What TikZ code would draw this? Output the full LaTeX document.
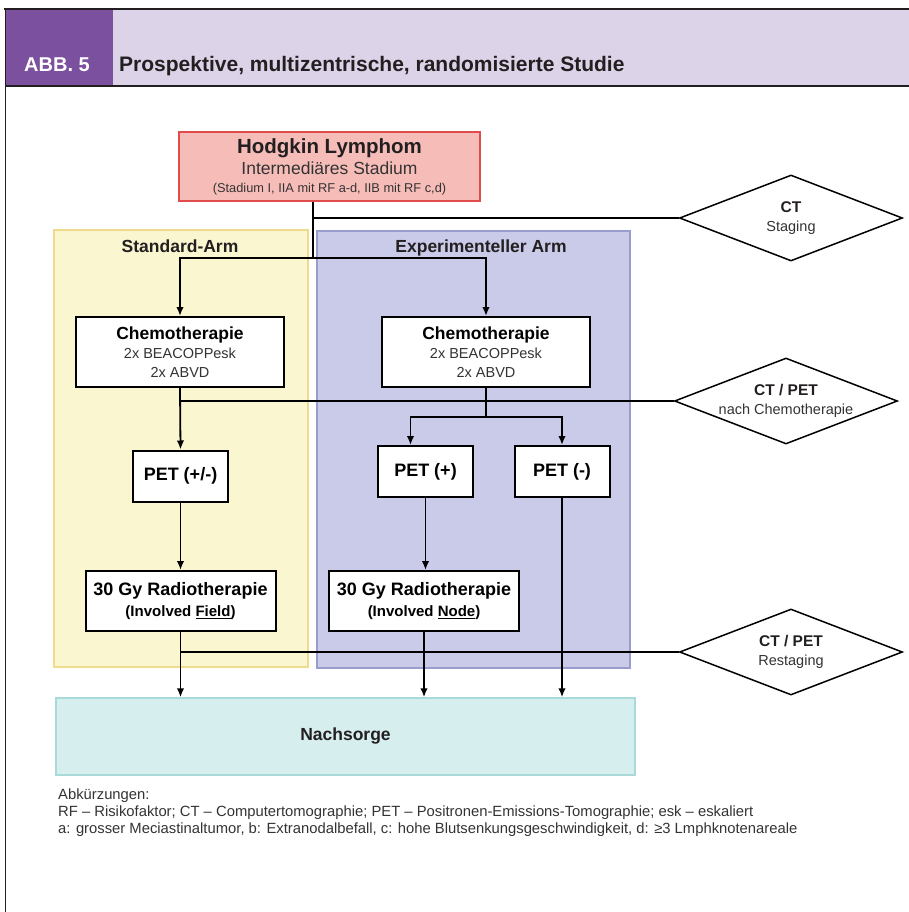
\documentclass[tikz,border=0pt]{standalone}
\usepackage{fontspec}
\setmainfont{Liberation Sans}
\usetikzlibrary{shapes, arrows, arrows.meta, positioning, fit, backgrounds}
\definecolor{hdrdark}{HTML}{231F20}
\definecolor{tabpurple}{HTML}{7B519F}
\definecolor{hdrlav}{HTML}{DCD3E8}
\definecolor{hodgfill}{HTML}{F6BDB8}
\definecolor{hodgdraw}{HTML}{E04B4B}
\definecolor{stdfill}{HTML}{FAF6CF}
\definecolor{stddraw}{HTML}{EEDC8C}
\definecolor{expfill}{HTML}{C9CBE9}
\definecolor{expdraw}{HTML}{9A9CCD}
\definecolor{nachfill}{HTML}{D6EEEE}
\definecolor{nachdraw}{HTML}{A9D9D9}
\definecolor{txtgrey}{HTML}{333333}
\newcommand{\fsz}[2]{\fontsize{#1}{#2}\selectfont}
\tikzstyle{rect} = [draw, line width=2pt, fill=white, align=center, inner sep=0pt, font=\fsz{14.5}{19}, text=txtgrey]
\tikzstyle{chemo} = [rect, minimum width=208pt, minimum height=70pt]
\tikzstyle{pet} = [rect, minimum width=95pt, minimum height=51pt, font=\fsz{18}{20}\bfseries, text=black]
\tikzstyle{radio} = [rect, minimum width=190pt, minimum height=60pt, font=\fsz{15}{21}\bfseries, text=black]
\tikzstyle{arm} = [draw, line width=1.4pt, inner sep=0pt]
\tikzstyle{armlabel} = [anchor=base, inner sep=0pt, font=\fsz{17.5}{20}\bfseries, text=hdrdark]
\tikzstyle{check} = [draw, diamond, line width=1.5pt, fill=white, align=center, inner sep=-14pt, minimum width=223pt, minimum height=86pt, aspect=2.6, font=\fsz{14.5}{19}, text=txtgrey]
\tikzstyle{line} = [draw, line width=1.8pt]
\tikzstyle{arr} = [draw, line width=1.8pt, -{Latex[length=9pt, width=7.5pt]}]

\begin{document}
\begin{tikzpicture}[x=1pt, y=-1pt]
	\useasboundingbox (0,0) rectangle (909,912);
	\fill[hdrlav] (5,9) rectangle (909,86);
	\fill[tabpurple] (5,9) rectangle (113,86);
	\draw[hdrdark, line width=2.4pt] (4,9) -- (909,9);
	\draw[hdrdark, line width=1.6pt] (5,86) -- (909,86);
	\draw[hdrdark, line width=1.6pt] (5.5,9) -- (5.5,912);
	\node [anchor=base, inner sep=0pt, text=white, font=\fsz{20}{20}\bfseries] (abb) at (57,72) {ABB. 5};
	\node [anchor=base west, inner sep=0pt, text=hdrdark, font=\fsz{21}{20}\bfseries] (title) at (119,72) {Prospektive, multizentrische, randomisierte Studie};

	\node [arm, draw=stddraw, fill=stdfill, minimum width=254pt, minimum height=437pt] (stdarm) at (181,448.5) {};
	\node [arm, draw=expdraw, fill=expfill, minimum width=313pt, minimum height=437pt] (exparm) at (473.5,449.5) {};
	\node [armlabel] (stdlabel) at (180,252) {Standard-Arm};
	\node [armlabel] (explabel) at (481,252) {Experimenteller Arm};

	\node [rect, draw=hodgdraw, fill=hodgfill, line width=1.6pt, minimum width=301pt, minimum height=69pt, font=\fsz{17.5}{20}, text=hdrdark] (hodgkin) at (329.5,166.5)
		{{\fsz{20.5}{20}\bfseries Hodgkin Lymphom}\\[1pt]{\color{txtgrey}Intermediäres Stadium}\\[-2pt]{\fsz{12.8}{14}\color{txtgrey}(Stadium I, IIA mit RF a-d, IIB mit RF c,d)}};

	\node [check] (ctStaging) at (791,218) {{\fsz{15.5}{19}\bfseries\color{hdrdark}CT}\\Staging};
	\node [check] (ctChemo) at (786,401) {{\fsz{15.5}{19}\bfseries\color{hdrdark}CT / PET}\\nach Chemotherapie};
	\node [check] (ctRestaging) at (791,652) {{\fsz{15.5}{19}\bfseries\color{hdrdark}CT / PET}\\Restaging};

	\node [chemo] (chemoStd) at (180,352) {{\fsz{17.5}{19}\bfseries\color{black}Chemotherapie}\\2x BEACOPPesk\\2x ABVD};
	\node [chemo] (chemoExp) at (486,352) {{\fsz{17.5}{19}\bfseries\color{black}Chemotherapie}\\2x BEACOPPesk\\2x ABVD};
	\node [pet] (petStd) at (180.5,476) {PET (+/-)};
	\node [pet] (petPos) at (425.5,471.5) {PET (+)};
	\node [pet] (petNeg) at (562,471.5) {PET (-)};
	\node [radio] (radioStd) at (180.5,601) {{\fsz{18}{21}30 Gy Radiotherapie}\\(Involved \underline{Field})};
	\node [radio] (radioExp) at (424,601) {{\fsz{18}{21}30 Gy Radiotherapie}\\(Involved \underline{Node})};
	\node [arm, draw=nachdraw, fill=nachfill, minimum width=579pt, minimum height=77pt, font=\fsz{17.5}{20}\bfseries, text=hdrdark] (nachsorge) at (345.5,736.5) {Nachsorge};

	\coordinate (trunk) at (313,258);
	\coordinate (expsplit) at (486,417);
	\path [line] (trunk |- hodgkin.south) -- (trunk);
	\path [line] (trunk |- ctStaging) -- (ctStaging.west);
	\path [arr] (trunk) -| (chemoStd.north);
	\path [arr] (trunk) -| (chemoExp.north);
	\path [arr] (chemoStd.south) -- (petStd.north);
	\path [line] (chemoStd.south |- ctChemo) -- (ctChemo.west);
	\path [line] (chemoExp.south) -- (expsplit);
	\path [arr] (expsplit) -| ([xshift=-15pt]petPos.north);
	\path [arr] (expsplit) -| (petNeg.north);
	\path [arr] (petStd.south) -- (radioStd.north);
	\path [arr] (petPos.south) -- (petPos.south |- radioExp.north);
	\path [arr] (petNeg.south) -- (petNeg.south |- nachsorge.north);
	\path [arr] (radioStd.south) -- (radioStd.south |- nachsorge.north);
	\path [line] (radioStd.south |- ctRestaging) -- (ctRestaging.west);
	\path [arr] (radioExp.south) -- (radioExp.south |- nachsorge.north);

	\node [anchor=north west, align=left, inner sep=0pt, text=txtgrey, font=\fsz{14.8}{17}] (abbrev) at (58,789)
		{Abkürzungen:\\RF – Risikofaktor; CT – Computertomographie; PET – Positronen-Emissions-Tomographie; esk – eskaliert\\a: grosser Meciastinaltumor, b: Extranodalbefall, c: hohe Blutsenkungsgeschwindigkeit, d: ≥3 Lmphknotenareale};
\end{tikzpicture}
\end{document}
